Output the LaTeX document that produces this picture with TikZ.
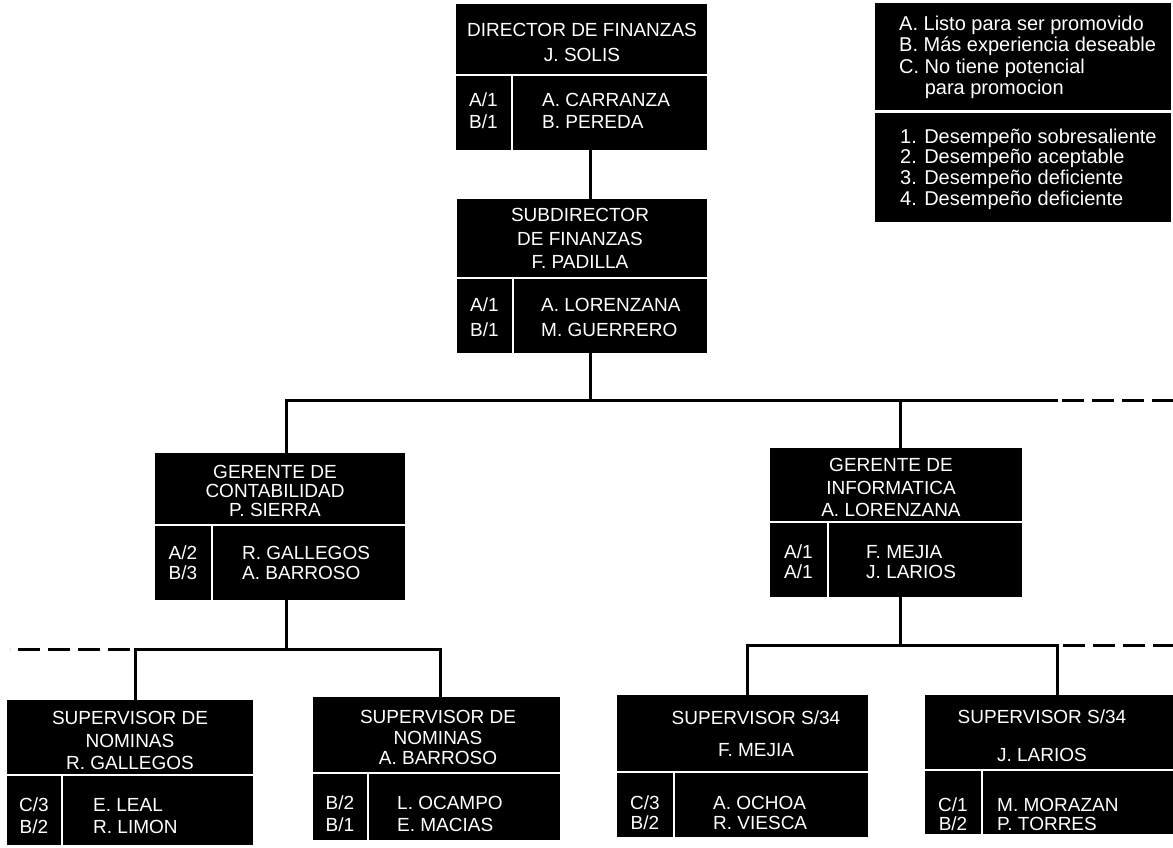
\documentclass[tikz,border=0pt]{standalone}
\usepackage{fontspec}
\setmainfont{Liberation Sans}
\usetikzlibrary{fit}
\begin{document}
\begin{tikzpicture}[x=1pt,y=-1pt,
  blk/.style={fill=black, draw=none, inner sep=0pt},
  txt/.style={text=white, inner sep=0pt, align=center, font=\fontsize{19}{#1}\selectfont},
  ltxt/.style={text=white, inner sep=0pt, align=left, anchor=west, font=\fontsize{19}{#1}\selectfont},
  leg/.style={text=white, inner sep=0pt, align=left, anchor=west, font=\fontsize{20}{#1}\selectfont},
  conn/.style={line width=3pt},
  contd/.style={line width=3pt, dash pattern=on 22pt off 8pt},
]
\useasboundingbox (0,0) rectangle (1173,848);

% ---------- Director de Finanzas
\node[blk, fit={(456,4)(707,74)}] (dirH) {};
\node[blk, fit={(456,76)(511,150)}] (dirC) {};
\node[blk, fit={(513,76)(707,150)}] (dirN) {};
\node[txt=25] (dirHt) at (582,42.5) {DIRECTOR DE FINANZAS\\J. SOLIS};
\node[txt=22] (dirCt) at (dirC |- 0,111) {A/1\\B/1};
\node[ltxt=22] (dirNt) at (542,111) {A. CARRANZA\\B. PEREDA};

% ---------- Subdirector de Finanzas
\node[blk, fit={(457,199)(707,277)}] (subH) {};
\node[blk, fit={(457,279)(512,353)}] (subC) {};
\node[blk, fit={(514,279)(707,353)}] (subN) {};
\node[txt=23.5] (subHt) at (580,238.5) {SUBDIRECTOR\\DE FINANZAS\\F. PADILLA};
\node[txt=25] (subCt) at (subC |- 0,317.5) {A/1\\B/1};
\node[ltxt=25] (subNt) at (541,317.5) {A. LORENZANA\\M. GUERRERO};

% ---------- Gerente de Contabilidad
\node[blk, fit={(155,453)(405,524)}] (conH) {};
\node[blk, fit={(155,526)(211,600)}] (conC) {};
\node[blk, fit={(213,526)(405,600)}] (conN) {};
\node[txt=19] (conHt) at (275,491) {GERENTE DE\\CONTABILIDAD\\P. SIERRA};
\node[txt=20] (conCt) at (conC |- 0,563) {A/2\\B/3};
\node[ltxt=20] (conNt) at (242,563) {R. GALLEGOS\\A. BARROSO};

% ---------- Gerente de Informatica
\node[blk, fit={(770,448)(1022,521)}] (infH) {};
\node[blk, fit={(770,523)(827,597)}] (infC) {};
\node[blk, fit={(829,523)(1022,597)}] (infN) {};
\node[txt=22.5] (infHt) at (891,487.5) {GERENTE DE\\INFORMATICA\\A. LORENZANA};
\node[txt=20] (infCt) at (infC |- 0,562) {A/1\\A/1};
\node[ltxt=20] (infNt) at (866,562) {F. MEJIA\\J. LARIOS};

% ---------- Supervisor de Nominas (R. Gallegos)
\node[blk, fit={(7,700)(253,774)}] (s1H) {};
\node[blk, fit={(7,776)(61,845)}] (s1C) {};
\node[blk, fit={(63,776)(253,845)}] (s1N) {};
\node[txt=22.5] (s1Ht) at (130,740.5) {SUPERVISOR DE\\NOMINAS\\R. GALLEGOS};
\node[txt=22] (s1Ct) at (s1C |- 0,816) {C/3\\B/2};
\node[ltxt=22] (s1Nt) at (93,816) {E. LEAL\\R. LIMON};

% ---------- Supervisor de Nominas (A. Barroso)
\node[blk, fit={(313,697)(560,772)}] (s2H) {};
\node[blk, fit={(313,774)(367,840)}] (s2C) {};
\node[blk, fit={(369,774)(560,840)}] (s2N) {};
\node[txt=20.5] (s2Ht) at (438,737.5) {SUPERVISOR DE\\NOMINAS\\A. BARROSO};
\node[txt=22] (s2Ct) at (s2C |- 0,814) {B/2\\B/1};
\node[ltxt=22] (s2Nt) at (397,814) {L. OCAMPO\\E. MACIAS};

% ---------- Supervisor S/34 (F. Mejia)
\node[blk, fit={(617,695)(868,771)}] (s3H) {};
\node[blk, fit={(617,773)(673,837)}] (s3C) {};
\node[blk, fit={(675,773)(868,837)}] (s3N) {};
\node[txt=32] (s3Ht) at (756,734) {SUPERVISOR S/34\\F. MEJIA};
\node[txt=20] (s3Ct) at (s3C |- 0,813) {C/3\\B/2};
\node[ltxt=20] (s3Nt) at (713,813) {A. OCHOA\\R. VIESCA};

% ---------- Supervisor S/34 (J. Larios)
\node[blk, fit={(925,695)(1173,769)}] (s4H) {};
\node[blk, fit={(925,771)(981,834)}] (s4C) {};
\node[blk, fit={(983,771)(1173,834)}] (s4N) {};
\node[txt=38] (s4Ht) at (1042,736) {SUPERVISOR S/34\\J. LARIOS};
\node[txt=19] (s4Ct) at (s4C |- 0,814) {C/1\\B/2};
\node[ltxt=19] (s4Nt) at (997,814) {M. MORAZAN\\P. TORRES};

% ---------- Legend
\node[blk, fit={(875,3)(1171,110)}] (legA) {};
\node[blk, fit={(875,113)(1171,222)}] (legB) {};
\node[leg=21.5] (legAt) at (899,57.5) {A. Listo para ser promovido\\B. Más experiencia deseable\\C. No tiene potencial\\\phantom{C. }para promocion};
\node[leg=20.7] (legBt) at (900,169) {1. Desempeño sobresaliente\\2. Desempeño aceptable\\3. Desempeño deficiente\\4. Desempeño deficiente};

% ---------- Connectors
\coordinate (a0) at (590,400);
\coordinate (aL) at (286,400);
\coordinate (aR) at (900,400);
\coordinate (aE) at (1058,400);
\coordinate (aD) at (1062,400);
\coordinate (aX) at (1173,400);

\draw[conn] (dirN.south -| a0) -- (subH.north -| a0);
\draw[conn] (subN.south -| a0) -- (a0);
\draw[conn] (conH.north -| aL) -- (aL) -- (aE);
\draw[conn] (aR) -- (infH.north -| aR);
\draw[contd] (aD) -- (aX);

\coordinate (bL) at (135,649);
\coordinate (bM) at (286,649);
\coordinate (bR) at (440,649);
\coordinate (bD) at (130,649);
\coordinate (bX) at (10,649);
\draw[conn] (s1H.north -| bL) -- (bL) -- (bR) -- (s2H.north -| bR);
\draw[conn] (conN.south -| bM) -- (bM);
\draw[contd] (bD) -- (bX);

\coordinate (cL) at (747,645);
\coordinate (cM) at (900,645);
\coordinate (cR) at (1057,645);
\coordinate (cD) at (1063,645);
\coordinate (cX) at (1173,645);
\draw[conn] (s3H.north -| cL) -- (cL) -- (cR) -- (s4H.north -| cR);
\draw[conn] (infN.south -| cM) -- (cM);
\draw[contd] (cD) -- (cX);
\end{tikzpicture}
\end{document}
